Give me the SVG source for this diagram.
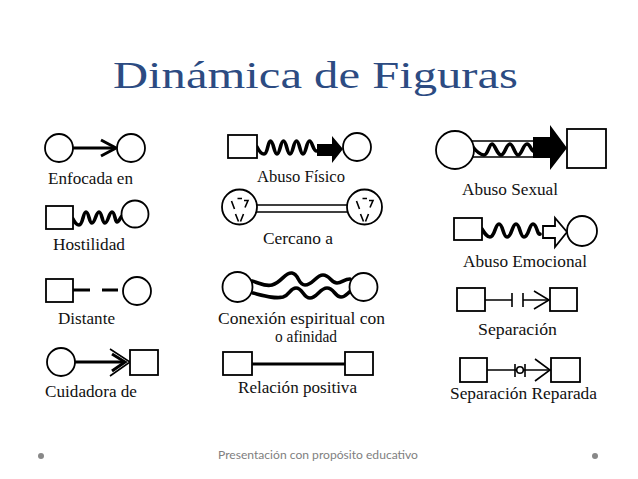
<svg xmlns="http://www.w3.org/2000/svg" width="638" height="479" viewBox="0 0 638 479">
<style>
.s{fill:#fff;stroke:#000;stroke-width:1.8}
.ln{fill:none;stroke:#000;stroke-width:3;stroke-linecap:butt}
.th{fill:none;stroke:#000;stroke-width:1.6}
.wv{fill:none;stroke:#000;stroke-width:3.6;stroke-linejoin:round;stroke-linecap:round}
.lb{font-family:"Liberation Serif","DejaVu Serif",serif;font-size:16.5px;fill:#111}
.ttl{font-family:"Liberation Serif","DejaVu Serif",serif;font-size:38px;fill:#2c4b82}
.ft{font-family:Lato,"DejaVu Sans",sans-serif;font-size:11px;fill:#808080}
</style>
<rect width="638" height="479" fill="#fff"/>
<text class="ttl" x="113" y="88" textLength="405" lengthAdjust="spacingAndGlyphs">Dinámica de Figuras</text>

<g id="connectors">
  <!-- Enfocada en -->
  <path class="ln" d="M73,148 H115"/>
  <path class="ln" d="M101,140 L116,148 L101,156" stroke-linejoin="miter"/>
  <!-- Hostilidad -->
  <path class="wv" d="M73,219 C75,223 77,225 79,225 C83,225 83,212 86,212 C89,212 89,223 92,223 C95,223 96,212 99,212 C102,212 102,223 105,223 C108,223 109,212 112,212 C115,212 115,222 117,222 C119,222 120,218 122,216"/>
  <!-- Distante -->
  <path class="ln" d="M73,290 H90 M102,290 H118" stroke-width="3.5"/>
  <!-- Cuidadora de -->
  <path class="ln" d="M75,362 H124"/>
  <path class="ln" d="M112,354 L125,362 L112,371"/>
  <path class="th" d="M110,349 L130,362 L110,376"/>
  <!-- Abuso Fisico -->
  <path class="wv" d="M257,147 C259,151 261,154 264,154 C268,154 267.5,141 270.5,141 C273.5,141 274,154 277,154 C280,154 280.5,141 283.5,141 C286.5,141 287,154 290,154 C293,154 293.5,141 296.5,141 C299.5,141 300,154 303,154 C306,154 306.5,141 309.5,141 C312.5,141 313,152 317,151"/>
  <path d="M317,144 H332 V136 L343,149 L332,163 V156 H317 Z" fill="#000"/>
  <!-- Cercano a -->
  <path class="th" d="M257,205 H347 M257,212 H347" stroke-width="2"/>
  <!-- Conexion espiritual -->
  <path class="wv" d="M252,281 C260,283 265,287 272,285 C282,282 285,272 292,273 C299,274 298,285 305,285 C313,285 316,275 323,275 C330,275 331,283 337,283 C342,283 344,279 350,279"/>
  <path class="wv" d="M253,293 C265,296 275,299 283,297 C290,295 290,288 296,288 C303,288 303,298 310,298 C317,298 320,288 327,288 C334,288 335,297 341,297 C346,297 348,292 351,291"/>
  <!-- Relacion positiva -->
  <path class="ln" d="M252,364 H345"/>
  <!-- Abuso Sexual -->
  <path class="th" d="M471,141 H533 M471,157 H533" stroke-width="2"/>
  <path class="wv" d="M472,146 C476,151 480,155 484,155 C488,155 489,144 492,144 C495,144 497,155 501,155 C505,155 506,144 510,144 C513,144 515,155 518,155 C522,155 523,144 527,144 C530,144 531,150 533,151" stroke-width="3.2"/>
  <path d="M533,137 H550 V125 L567,148 L550,170 V158 H533 Z" fill="#000"/>
  <!-- Abuso Emocional -->
  <path class="wv" d="M482,229 C485,234 487,237 490,237 C495,237 495,224 499,224 C503,224 503,237 507,237 C512,237 512,224 516,224 C520,224 520,237 524,237 C529,237 529,224 533,224 C537,224 537,235 540,234"/>
  <path d="M543,226 H555 V218 L567,232 L555,247 V238 H543 Z" fill="#fff" stroke="#000" stroke-width="1.8" stroke-linejoin="miter"/>
  <!-- Separacion -->
  <path class="th" d="M485,300 H512 M523,300 H549"/>
  <path class="th" d="M512,293 V307 M523,293 V307" stroke-width="2.2"/>
  <path class="th" d="M534,291 L549,300 L534,309" stroke-width="2"/>
  <!-- Separacion Reparada -->
  <path class="th" d="M487,370 H551"/>
  <path class="th" d="M515,364 V377 M525,364 V377" stroke-width="2.2"/>
  <circle cx="520" cy="370" r="3.3" fill="#fff" stroke="#000" stroke-width="1.6"/>
  <path class="th" d="M535,359 L550,370 L535,381" stroke-width="2"/>
</g>

<g id="n-enfocada-a"><circle class="s" cx="59" cy="148" r="14"/></g>
<g id="n-enfocada-b"><circle class="s" cx="131" cy="148" r="14"/></g>
<g id="n-hostilidad-a"><rect class="s" x="46" y="206" width="27" height="23"/></g>
<g id="n-hostilidad-b"><circle class="s" cx="135" cy="214" r="13.5"/></g>
<g id="n-distante-a"><rect class="s" x="46" y="279" width="27" height="23"/></g>
<g id="n-distante-b"><circle class="s" cx="137" cy="291" r="14"/></g>
<g id="n-cuidadora-a"><circle class="s" cx="61" cy="362" r="14"/></g>
<g id="n-cuidadora-b"><rect class="s" x="130" y="350" width="28" height="25"/></g>

<g id="n-fisico-a"><rect class="s" x="228" y="135" width="29" height="23"/></g>
<g id="n-fisico-b"><circle class="s" cx="357" cy="147" r="14"/></g>
<g id="n-cercano-a">
  <circle class="s" cx="239.5" cy="207" r="17.5"/>
  <path class="th" d="M231.5,201 L234.5,209 M237.5,198.5 H242 M244,200.5 H248 L245,207.5 M235.5,214 L238.5,221.5 M243.5,214 L240.5,221.5" stroke-width="1.4"/>
</g>
<g id="n-cercano-b">
  <circle class="s" cx="364.5" cy="207" r="17.5"/>
  <path class="th" d="M356.5,201 L359.5,209 M362.5,198.5 H367 M369,200.5 H373 L370,207.5 M360.5,214 L363.5,221.5 M368.5,214 L365.5,221.5" stroke-width="1.4"/>
</g>
<g id="n-conexion-a"><circle class="s" cx="237.5" cy="287" r="15"/></g>
<g id="n-conexion-b"><circle class="s" cx="363.5" cy="287" r="14"/></g>
<g id="n-relacion-a"><rect class="s" x="223" y="352" width="29" height="23"/></g>
<g id="n-relacion-b"><rect class="s" x="345" y="352" width="28" height="23"/></g>

<g id="n-sexual-a"><circle class="s" cx="455" cy="150" r="19"/></g>
<g id="n-sexual-b"><rect class="s" x="567" y="129" width="39" height="39"/></g>
<g id="n-emocional-a"><rect class="s" x="454" y="218" width="28" height="22"/></g>
<g id="n-emocional-b"><circle class="s" cx="582" cy="231" r="15"/></g>
<g id="n-separacion-a"><rect class="s" x="457" y="288" width="28" height="23"/></g>
<g id="n-separacion-b"><rect class="s" x="550" y="288" width="27" height="23"/></g>
<g id="n-reparada-a"><rect class="s" x="460" y="358" width="27" height="24"/></g>
<g id="n-reparada-b"><rect class="s" x="551" y="358" width="29" height="24"/></g>

<g id="labels">
  <text class="lb" x="48" y="184" textLength="85" lengthAdjust="spacingAndGlyphs">Enfocada en</text>
  <text class="lb" x="53" y="250" textLength="72" lengthAdjust="spacingAndGlyphs">Hostilidad</text>
  <text class="lb" x="58" y="324" textLength="57" lengthAdjust="spacingAndGlyphs">Distante</text>
  <text class="lb" x="45" y="397" textLength="92" lengthAdjust="spacingAndGlyphs">Cuidadora de</text>
  <text class="lb" x="257" y="182" textLength="88" lengthAdjust="spacingAndGlyphs">Abuso Físico</text>
  <text class="lb" x="263" y="244" textLength="70" lengthAdjust="spacingAndGlyphs">Cercano a</text>
  <text class="lb" x="218" y="324" textLength="167" lengthAdjust="spacingAndGlyphs">Conexión espiritual con</text>
  <text class="lb" x="275" y="342" textLength="62" lengthAdjust="spacingAndGlyphs">o afinidad</text>
  <text class="lb" x="238" y="393" textLength="119" lengthAdjust="spacingAndGlyphs">Relación positiva</text>
  <text class="lb" x="462" y="195" textLength="96" lengthAdjust="spacingAndGlyphs">Abuso Sexual</text>
  <text class="lb" x="463" y="267" textLength="124" lengthAdjust="spacingAndGlyphs">Abuso Emocional</text>
  <text class="lb" x="478" y="335" textLength="79" lengthAdjust="spacingAndGlyphs">Separación</text>
  <text class="lb" x="450" y="399" textLength="147" lengthAdjust="spacingAndGlyphs">Separación Reparada</text>
</g>

<g id="footer">
  <circle cx="41" cy="456" r="3" fill="#888"/>
  <circle cx="595" cy="456" r="3" fill="#888"/>
  <text class="ft" x="218" y="459" textLength="200" lengthAdjust="spacingAndGlyphs">Presentación con propósito educativo</text>
</g>
</svg>
